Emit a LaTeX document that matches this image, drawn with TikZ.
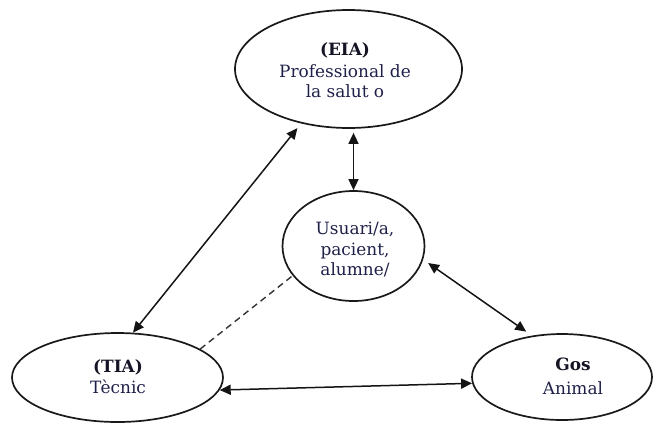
\documentclass[tikz,border=0pt]{standalone}
\usepackage{fontspec}
\setmainfont{DejaVu Serif}
\usetikzlibrary{shapes.geometric,arrows.meta}
\definecolor{navy}{RGB}{30,32,72}
\definecolor{boldink}{RGB}{20,20,36}
\tikzset{
  oval/.style={draw=black!90, line width=1.7bp, ellipse, inner sep=0pt},
  lbl/.style={anchor=base, inner sep=0pt, text=navy, font=\fontsize{17}{20}\selectfont},
  blbl/.style={lbl, text=boldink, font=\fontsize{17}{20}\selectfont\bfseries},
  link/.style={line width=1.5bp, draw=black!92, {Triangle[length=11bp,width=10bp]}-{Triangle[length=11bp,width=10bp]}},
  dashlink/.style={line width=1.4bp, draw=black!80, dash pattern=on 6.5bp off 4.5bp}
}
\begin{document}
\begin{tikzpicture}[x=1bp,y=-1bp]
\useasboundingbox (0,0) rectangle (654,424);
% ellipses
\node[oval, minimum width=227bp, minimum height=118bp] (eia) at (348.5,69) {};
\node[oval, minimum width=142bp, minimum height=110bp] (usr) at (353.5,246) {};
\node[oval, minimum width=211bp, minimum height=89bp] (tia) at (117.5,377.5) {};
\node[oval, minimum width=180bp, minimum height=86bp] (gos) at (562,377) {};
% texts
\node[blbl] (t1) at (345,55) {(EIA)};
\node[lbl] (t2) at (345,77) {Professional de};
\node[lbl] (t3) at (345,97) {la salut o};
\node[lbl] (u1) at (355,234) {Usuari/a,};
\node[lbl] (u2) at (355,255) {pacient,};
\node[lbl] (u3) at (355,275) {alumne/};
\node[blbl] (l1) at (118,372) {(TIA)};
\node[lbl] (l2) at (118,393) {Tècnic};
\node[blbl] (r1) at (573,370) {Gos};
\node[lbl] (r2) at (573,394) {Animal};
% connectors
\draw[link, shorten >=6bp] (tia.71) -- (eia.229);
\draw[link, shorten >=4bp] (usr.north) -- (usr.north |- eia.south);
\draw[link, shorten <=6bp, shorten >=7bp] (usr.-11) -- (gos.126);
\draw[link] (tia.-7) -- (gos.184);
\draw[dashlink] (tia.19) -- (usr.206);
\end{tikzpicture}
\end{document}
